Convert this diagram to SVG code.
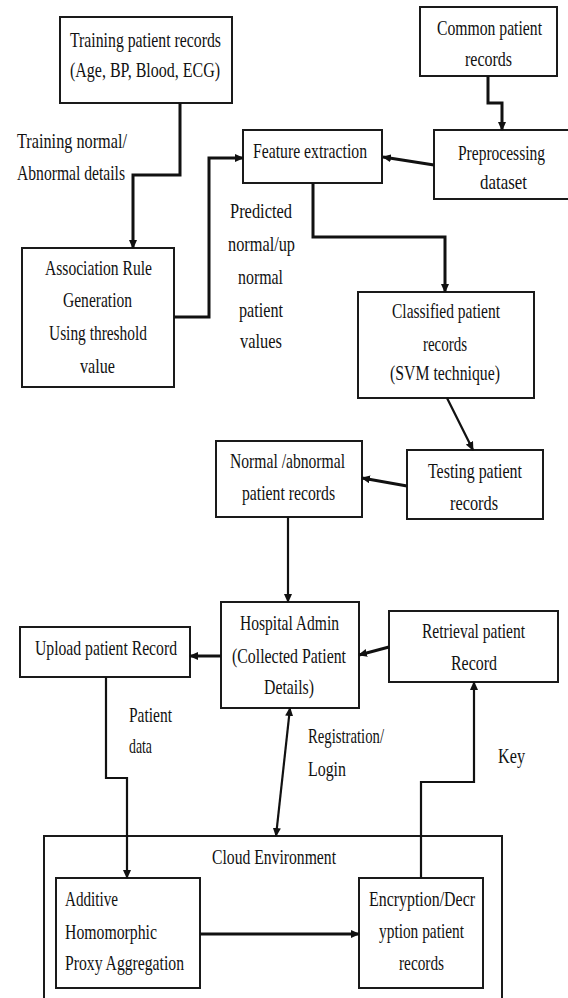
<svg xmlns="http://www.w3.org/2000/svg" width="568" height="998" viewBox="0 0 568 998">
<defs>
<style>
.box{fill:#fff;stroke:#1a1a1a;stroke-width:2}
.t{font-family:"Liberation Serif","Times New Roman",serif;font-size:22px;fill:#111}
.c{fill:none;stroke:#111;stroke-width:3;stroke-linejoin:miter}
.thin{stroke-width:2.2}
</style>
<marker id="ah" markerUnits="userSpaceOnUse" markerWidth="9" markerHeight="8" refX="8" refY="4" orient="auto-start-reverse">
<path d="M0,0 L9,4 L0,8 z" fill="#111"/>
</marker>
</defs>
<rect width="568" height="998" fill="#fff"/>

<g id="cloud">
<rect class="box" x="44" y="836" width="458" height="190"/>
<text class="t" x="212" y="864" textLength="124" lengthAdjust="spacingAndGlyphs">Cloud Environment</text>
</g>

<g id="training">
<rect class="box" x="60" y="17" width="172" height="86"/>
<text class="t" x="70" y="47" textLength="151" lengthAdjust="spacingAndGlyphs">Training patient records</text>
<text class="t" x="70" y="77" textLength="150" lengthAdjust="spacingAndGlyphs">(Age, BP, Blood, ECG)</text>
</g>

<g id="common">
<rect class="box" x="420" y="7" width="137" height="69"/>
<text class="t" x="437" y="35" textLength="105" lengthAdjust="spacingAndGlyphs">Common patient</text>
<text class="t" x="465" y="66" textLength="47" lengthAdjust="spacingAndGlyphs">records</text>
</g>

<g id="feature">
<rect class="box" x="243" y="130" width="139" height="53"/>
<text class="t" x="253" y="158" textLength="114" lengthAdjust="spacingAndGlyphs">Feature extraction</text>
</g>

<g id="preprocessing">
<rect class="box" x="434" y="130" width="145" height="69"/>
<text class="t" x="458" y="160" textLength="87" lengthAdjust="spacingAndGlyphs">Preprocessing</text>
<text class="t" x="480" y="189" textLength="47" lengthAdjust="spacingAndGlyphs">dataset</text>
</g>

<g id="association">
<rect class="box" x="22" y="248" width="152" height="139"/>
<text class="t" x="45" y="275" textLength="107" lengthAdjust="spacingAndGlyphs">Association Rule</text>
<text class="t" x="63" y="307" textLength="69" lengthAdjust="spacingAndGlyphs">Generation</text>
<text class="t" x="49" y="340" textLength="98" lengthAdjust="spacingAndGlyphs">Using threshold</text>
<text class="t" x="80" y="373" textLength="35" lengthAdjust="spacingAndGlyphs">value</text>
</g>

<g id="classified">
<rect class="box" x="358" y="292" width="176" height="106"/>
<text class="t" x="392" y="318" textLength="108" lengthAdjust="spacingAndGlyphs">Classified patient</text>
<text class="t" x="423" y="351" textLength="44" lengthAdjust="spacingAndGlyphs">records</text>
<text class="t" x="390" y="380" textLength="110" lengthAdjust="spacingAndGlyphs">(SVM technique)</text>
</g>

<g id="normal-abnormal">
<rect class="box" x="216" y="441" width="146" height="76"/>
<text class="t" x="230" y="468" textLength="115" lengthAdjust="spacingAndGlyphs">Normal /abnormal</text>
<text class="t" x="242" y="500" textLength="93" lengthAdjust="spacingAndGlyphs">patient records</text>
</g>

<g id="testing">
<rect class="box" x="407" y="450" width="136" height="69"/>
<text class="t" x="428" y="478" textLength="94" lengthAdjust="spacingAndGlyphs">Testing patient</text>
<text class="t" x="450" y="510" textLength="48" lengthAdjust="spacingAndGlyphs">records</text>
</g>

<g id="hospital">
<rect class="box" x="221" y="602" width="138" height="106"/>
<text class="t" x="240" y="630" textLength="99" lengthAdjust="spacingAndGlyphs">Hospital Admin</text>
<text class="t" x="232" y="663" textLength="114" lengthAdjust="spacingAndGlyphs">(Collected Patient</text>
<text class="t" x="264" y="694" textLength="50" lengthAdjust="spacingAndGlyphs">Details)</text>
</g>

<g id="upload">
<rect class="box" x="20" y="627" width="170" height="50"/>
<text class="t" x="35" y="655" textLength="142" lengthAdjust="spacingAndGlyphs">Upload patient Record</text>
</g>

<g id="retrieval">
<rect class="box" x="389" y="611" width="169" height="71"/>
<text class="t" x="422" y="638" textLength="103" lengthAdjust="spacingAndGlyphs">Retrieval patient</text>
<text class="t" x="451" y="670" textLength="46" lengthAdjust="spacingAndGlyphs">Record</text>
</g>

<g id="additive">
<rect class="box" x="56" y="878" width="144" height="110"/>
<text class="t" x="65" y="906" textLength="53" lengthAdjust="spacingAndGlyphs">Additive</text>
<text class="t" x="65" y="939" textLength="92" lengthAdjust="spacingAndGlyphs">Homomorphic</text>
<text class="t" x="65" y="970" textLength="119" lengthAdjust="spacingAndGlyphs">Proxy Aggregation</text>
</g>

<g id="encryption">
<rect class="box" x="359" y="878" width="124" height="110"/>
<text class="t" x="369" y="906" textLength="106" lengthAdjust="spacingAndGlyphs">Encryption/Decr</text>
<text class="t" x="379" y="938" textLength="85" lengthAdjust="spacingAndGlyphs">yption patient</text>
<text class="t" x="399" y="970" textLength="45" lengthAdjust="spacingAndGlyphs">records</text>
</g>

<g id="connectors">
<path class="c" d="M180,103 V175 H133 V248" marker-end="url(#ah)"/>
<path class="c" d="M174,317 H209 V158 H243" marker-end="url(#ah)"/>
<path class="c" d="M488,76 V103 H502 V130" marker-end="url(#ah)"/>
<path class="c" d="M434,165 L383,157" marker-end="url(#ah)"/>
<path class="c" d="M313,183 V237 H445 V292" marker-end="url(#ah)"/>
<path class="c thin" d="M447,398 L473,450" marker-end="url(#ah)"/>
<path class="c" d="M407,486 L362,478" marker-end="url(#ah)"/>
<path class="c thin" d="M288,517 V602" marker-end="url(#ah)"/>
<path class="c" d="M221,656 H190" marker-end="url(#ah)"/>
<path class="c" d="M389,647 L359,655" marker-end="url(#ah)"/>
<path class="c thin" d="M106,677 V778 H127 V878" marker-end="url(#ah)"/>
<path class="c thin" d="M290,708 L276,836" marker-start="url(#ah)" marker-end="url(#ah)"/>
<path class="c" d="M200,934 H359" marker-end="url(#ah)"/>
<path class="c thin" d="M421,878 V782 H474 V682" marker-end="url(#ah)"/>
</g>

<g id="labels">
<text class="t" x="17" y="148" textLength="110" lengthAdjust="spacingAndGlyphs">Training normal/</text>
<text class="t" x="17" y="180" textLength="108" lengthAdjust="spacingAndGlyphs">Abnormal details</text>
<text class="t" x="230" y="218" textLength="62" lengthAdjust="spacingAndGlyphs">Predicted</text>
<text class="t" x="228" y="251" textLength="67" lengthAdjust="spacingAndGlyphs">normal/up</text>
<text class="t" x="238" y="284" textLength="45" lengthAdjust="spacingAndGlyphs">normal</text>
<text class="t" x="239" y="317" textLength="44" lengthAdjust="spacingAndGlyphs">patient</text>
<text class="t" x="240" y="348" textLength="42" lengthAdjust="spacingAndGlyphs">values</text>
<text class="t" x="129" y="722" textLength="43" lengthAdjust="spacingAndGlyphs">Patient</text>
<text class="t" x="129" y="753" textLength="23" lengthAdjust="spacingAndGlyphs">data</text>
<text class="t" x="308" y="743" textLength="76" lengthAdjust="spacingAndGlyphs">Registration/</text>
<text class="t" x="308" y="776" textLength="38" lengthAdjust="spacingAndGlyphs">Login</text>
<text class="t" x="498" y="763" textLength="27" lengthAdjust="spacingAndGlyphs">Key</text>
</g>
</svg>
